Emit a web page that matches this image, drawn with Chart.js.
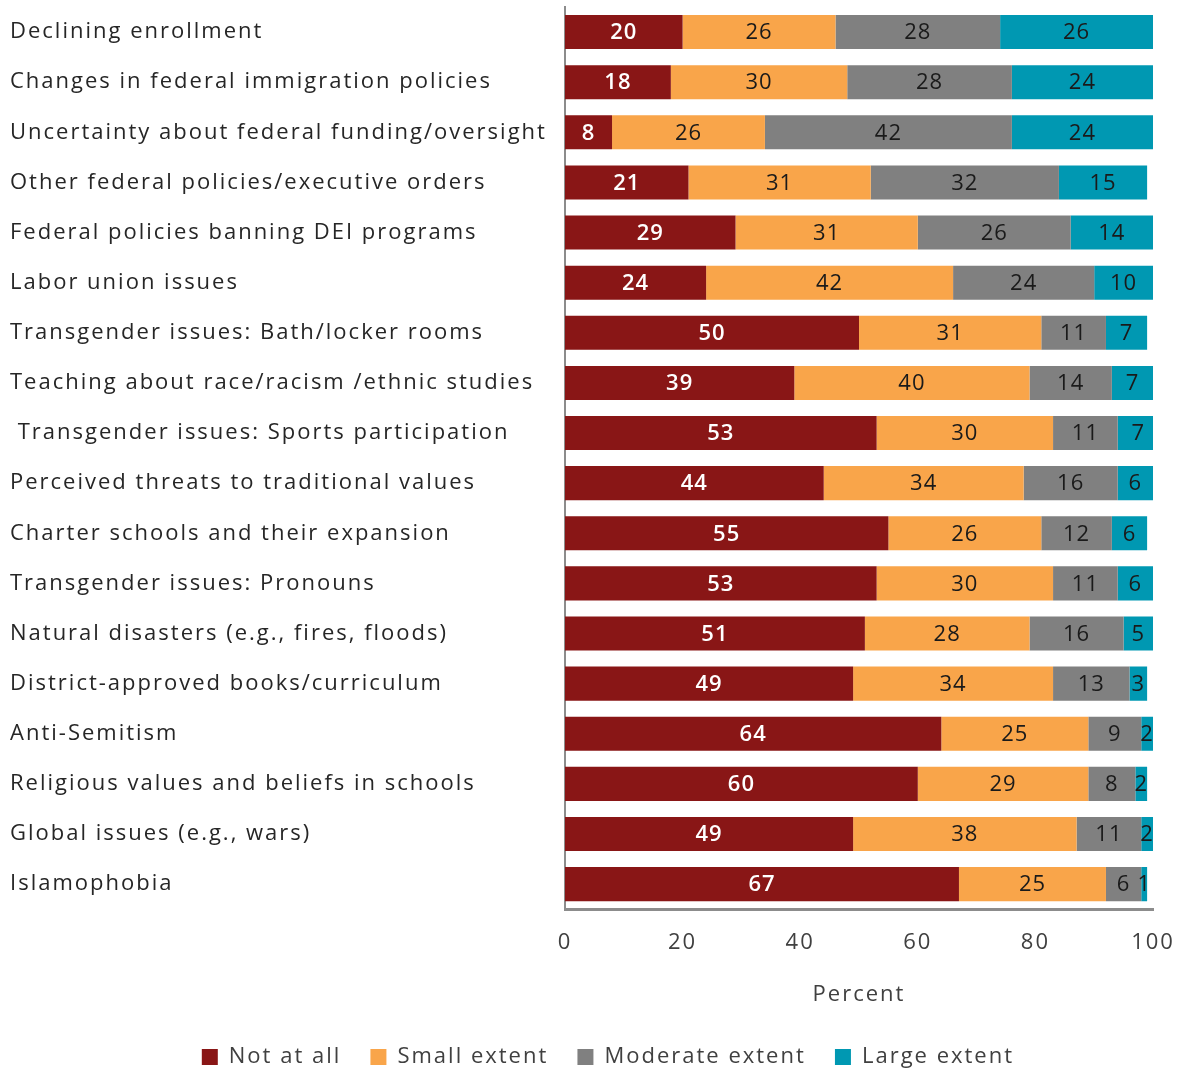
<!DOCTYPE html>
<html>
<head>
<meta charset="utf-8">
<script src="https://cdn.jsdelivr.net/npm/chart.js@4/dist/chart.umd.min.js"></script>
<style>
  html, body { margin: 0; padding: 0; background: #fff; }
  #wrap { width: 1180px; height: 1070px; }
</style>
</head>
<body>
<div id="wrap"><canvas id="issuesChart"></canvas></div>
<script>
// Extent to which issues affect schools (percent of respondents)
const categories = [
    'Declining enrollment',
    'Changes in federal immigration policies',
    'Uncertainty about federal funding/oversight',
    'Other federal policies/executive orders',
    'Federal policies banning DEI programs',
    'Labor union issues',
    'Transgender issues: Bath/locker rooms',
    'Teaching about race/racism /ethnic studies',
    ' Transgender issues: Sports participation',
    'Perceived threats to traditional values',
    'Charter schools and their expansion',
    'Transgender issues: Pronouns',
    'Natural disasters (e.g., fires, floods)',
    'District-approved books/curriculum',
    'Anti-Semitism',
    'Religious values and beliefs in schools',
    'Global issues (e.g., wars)',
    'Islamophobia'
];

const notAtAll = [20, 18, 8, 21, 29, 24, 50, 39, 53, 44, 55, 53, 51, 49, 64, 60, 49, 67];
const smallExtent = [26, 30, 26, 31, 31, 42, 31, 40, 30, 34, 26, 30, 28, 34, 25, 29, 38, 25];
const moderateExtent = [28, 28, 42, 32, 26, 24, 11, 14, 11, 16, 12, 11, 16, 13, 9, 8, 11, 6];
const largeExtent = [26, 24, 24, 15, 14, 10, 7, 7, 7, 6, 6, 6, 5, 3, 2, 2, 2, 1];

const xTicks = [0, 20, 40, 60, 80, 100];

const FONT = "'Open Sans', 'Noto Sans', sans-serif";
const TEXT = '#404040';
const SPACING = '2px';

// the original text is set quite loose, canvas state gets reset on resize so set it each time
const looseText = {
    id: 'looseText',
    beforeLayout(chart) { chart.ctx.letterSpacing = SPACING; },
    beforeDraw(chart) { chart.ctx.letterSpacing = SPACING; },
    afterLayout(chart) {
        // legend sits a bit right of centre and lower in the original
        chart.legend.left += 38;
        chart.legend.right += 38;
        chart.legend.top += 8;
        chart.legend.bottom += 8;
    }
};

// draws the value in the middle of each bar segment
const segmentLabels = {
    id: 'segmentLabels',
    afterDatasetsDraw(chart) {
        const ctx = chart.ctx;
        ctx.save();
        ctx.textAlign = 'center';
        ctx.textBaseline = 'middle';
        ctx.letterSpacing = '1px';
        chart.data.datasets.forEach((ds, i) => {
            const meta = chart.getDatasetMeta(i);
            meta.data.forEach((bar, j) => {
                const cx = (bar.x + bar.base) / 2;
                ctx.fillStyle = i === 0 ? '#ffffff' : '#1a1a1a';
                ctx.font = (i === 0 ? '600 ' : '') + '22px ' + FONT;
                ctx.fillText(String(ds.data[j]), cx, bar.y + 1);
            });
        });
        ctx.restore();
    }
};

const ctx = document.getElementById('issuesChart').getContext('2d');
new Chart(ctx, {
    type: 'bar',
    data: {
        labels: categories,
        datasets: [
            { label: 'Not at all', data: notAtAll, backgroundColor: '#891616' },
            { label: 'Small extent', data: smallExtent, backgroundColor: '#f9a54a' },
            { label: 'Moderate extent', data: moderateExtent, backgroundColor: '#808080' },
            { label: 'Large extent', data: largeExtent, backgroundColor: '#0098b2' }
        ]
    },
    options: {
        indexAxis: 'y',
        responsive: true,
        maintainAspectRatio: false,
        animation: false,
        datasets: {
            bar: { barPercentage: 0.68, categoryPercentage: 1.0, borderWidth: 0 }
        },
        layout: { padding: { left: 10, right: 27, top: 7, bottom: 0 } },
        scales: {
            x: {
                stacked: true,
                min: 0,
                max: 100,
                afterBuildTicks: (scale) => { scale.ticks = xTicks.map(v => ({ value: v })); },
                afterFit: (scale) => { scale.paddingLeft = 0; scale.paddingRight = 0; },
                grid: { display: false, drawTicks: false },
                border: { display: true, color: '#8c8c8c', width: 3 },
                ticks: { color: TEXT, font: { family: FONT, size: 22 }, padding: 20 },
                title: {
                    display: true,
                    text: 'Percent',
                    color: TEXT,
                    font: { family: FONT, size: 22 },
                    padding: { top: 6, bottom: 24 }
                }
            },
            y: {
                stacked: true,
                grid: { display: false, drawTicks: false },
                border: { display: true, color: '#8c8c8c', width: 2 },
                ticks: {
                    color: '#262626',
                    crossAlign: 'far',
                    autoSkip: false,
                    font: { family: FONT, size: 22 }
                },
                afterFit: (scale) => {
                    scale.width = 555;
                    scale.paddingTop = 0;
                    scale.paddingBottom = 0;
                }
            }
        },
        plugins: {
            legend: {
                position: 'bottom',
                labels: {
                    color: TEXT,
                    boxWidth: 16,
                    boxHeight: 16,
                    padding: 6,
                    font: { family: FONT, size: 22 },
                    generateLabels: (chart) => {
                        const items = Chart.defaults.plugins.legend.labels.generateLabels(chart);
                        // extra room between entries, as in the original
                        items.forEach(it => { it.text = it.text + '   '; });
                        return items;
                    }
                }
            },
            tooltip: { enabled: false }
        }
    },
    plugins: [looseText, segmentLabels]
});
</script>
</body>
</html>
